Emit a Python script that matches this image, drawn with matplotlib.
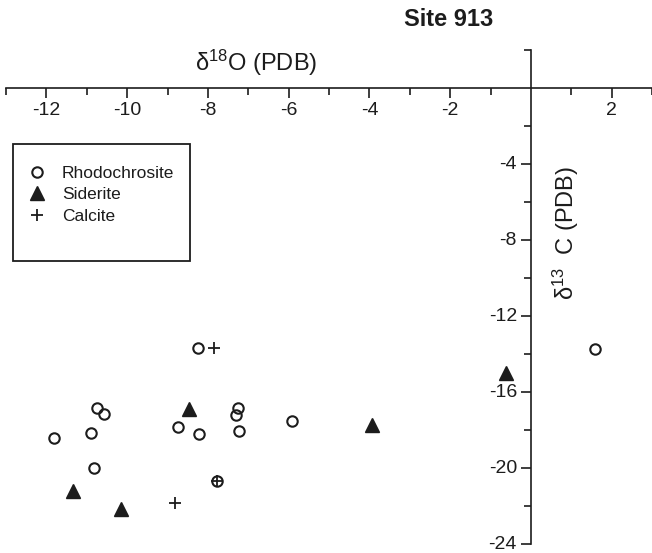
import matplotlib
matplotlib.use("Agg")
import matplotlib.pyplot as plt
from matplotlib.patches import Rectangle

plt.rcParams['font.family'] = ['Liberation Sans', 'DejaVu Sans']
plt.rcParams['mathtext.fontset'] = 'custom'
plt.rcParams['mathtext.rm'] = 'Liberation Sans'
plt.rcParams['mathtext.default'] = 'regular'
plt.rcParams['axes.unicode_minus'] = False

# d18O / d13C values
rhodo_x = [-10.75, -10.57, -11.81, -10.90, -10.82, -8.25, -7.26, -7.30, -8.73, -8.22, -7.24, -5.91, -7.78, 1.58]
rhodo_y = [-16.84, -17.16, -18.42, -18.16, -19.97, -13.68, -16.81, -17.19, -17.84, -18.19, -18.02, -17.51, -20.65, -13.74]
sid_x = [-11.34, -10.16, -8.46, -3.94, -0.62]
sid_y = [-21.2, -22.14, -16.88, -17.72, -15.0]
calc_x = [-7.84, -8.81, -7.78]
calc_y = [-13.68, -21.81, -20.65]

x_major = [-12, -10, -8, -6, -4, -2, 2]
x_minor = [-13, -11, -9, -7, -5, -3, -1, 1, 3]
y_major = [-4, -8, -12, -16, -20, -24]
y_minor = [2, -2, -6, -10, -14, -18, -22]

ink = '#1c1c1c'

fig = plt.figure(figsize=(6.52, 5.53), dpi=100)
ax = fig.add_axes([6 / 652, 1 - 544.3 / 553, 646 / 652, (544.3 - 50.3) / 553])

ax.plot(rhodo_x, rhodo_y, 'o', mfc='none', mec=ink, mew=1.5, ms=7.5, label='Rhodochrosite')
ax.plot(sid_x, sid_y, '^', color=ink, ms=10, label='Siderite')
ax.plot(calc_x, calc_y, '+', color=ink, mew=1.3, ms=8, label='Calcite')

ax.set_xlim(-13, 3)
ax.set_ylim(-24, 2)

# axes cross at the origin
for side in ['top', 'right']:
    ax.spines[side].set_visible(False)
ax.spines['left'].set_position(('data', 0))
ax.spines['bottom'].set_position(('data', 0))
ax.spines['left'].set_linewidth(1.2)
ax.spines['bottom'].set_linewidth(1.2)
ax.spines['left'].set_color(ink)
ax.spines['bottom'].set_color(ink)

ax.set_xticks(x_major)
ax.set_xticks(x_minor, minor=True)
ax.set_yticks(y_major)
ax.set_yticks(y_minor, minor=True)
ax.tick_params(which='major', direction='out', length=7, width=1.2, color=ink,
               labelsize=14, labelcolor=ink, pad=3)
ax.tick_params(which='minor', direction='out', length=5, width=1.2, color=ink)
for lbl in ax.get_yticklabels():
    lbl.set_verticalalignment('center')

fig.text(256 / 652, 1 - 63 / 553, r'δ$^{18}$O (PDB)', ha='center', va='center',
         fontsize=17, color=ink)
fig.text(566 / 652, 1 - 233 / 553, r'δ$^{13}$  C (PDB)', ha='center', va='center',
         rotation=90, fontsize=17, color=ink)
fig.text(449 / 652, 1 - 20 / 553, 'Site 913', ha='center', va='center',
         fontsize=17, fontweight='bold', color=ink)

# legend box
fig.patches.append(Rectangle((13 / 652, 1 - 261 / 553), 177 / 652, 117 / 553,
                             transform=fig.transFigure, fill=False, ec=ink, lw=1.3))
ax.legend(loc='upper left', bbox_to_anchor=(28 / 652, 1 - 166 / 553),
          bbox_transform=fig.transFigure, frameon=False, fontsize=12.5,
          borderpad=0, borderaxespad=0, handlelength=1.0, handletextpad=0.95,
          labelspacing=0.35, labelcolor=ink)

fig.savefig('out.png', dpi=100)
